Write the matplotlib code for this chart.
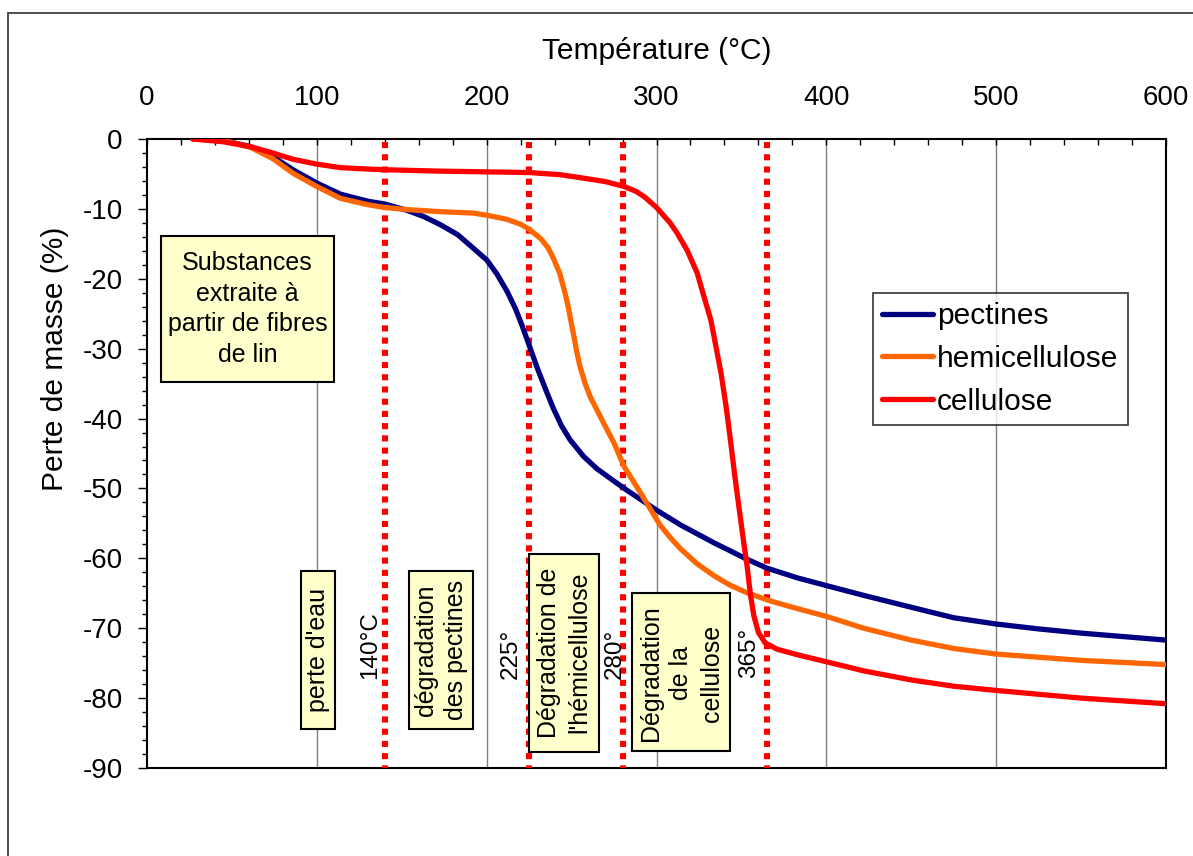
import matplotlib
matplotlib.use("Agg")
import matplotlib.pyplot as plt
from matplotlib.patches import Rectangle
from matplotlib.ticker import MultipleLocator

plt.rcParams['font.family'] = ['Liberation Sans', 'DejaVu Sans']
plt.rcParams['axes.unicode_minus'] = False

# ---------------- data ----------------
temp_pectines = [27, 45, 61, 74, 86, 100, 114, 130, 140, 153, 163, 173, 183, 192, 200, 206, 212, 217,
                 221, 225, 230, 235, 239, 244, 249, 257, 265, 281, 300, 314, 334, 344, 353, 365, 383,
                 400, 422, 450, 475, 500, 525, 550, 600]
mass_pectines = [0, -0.2, -1.1, -2.5, -4.4, -6.3, -7.9, -8.9, -9.3, -10.2, -11.1, -12.3, -13.7, -15.6,
                 -17.3, -19.3, -21.8, -24.3, -26.8, -29.5, -32.9, -36.0, -38.4, -41.0, -43.0, -45.4,
                 -47.2, -50.0, -53.1, -55.2, -57.8, -59.0, -60.1, -61.4, -62.8, -63.9, -65.3, -67.0,
                 -68.5, -69.4, -70.1, -70.7, -71.7]

temp_hemi = [27, 45, 61, 74, 86, 100, 114, 130, 140, 153, 173, 192, 200, 212, 220, 225, 232, 236,
             239, 243, 246, 248, 251, 253, 255, 258, 261, 265, 269, 275, 281, 289, 296, 302, 308,
             314, 324, 334, 343, 353, 367, 383, 400, 422, 450, 475, 500, 550, 600]
mass_hemi = [0, -0.2, -1.2, -2.8, -4.9, -6.8, -8.5, -9.4, -9.8, -10.1, -10.4, -10.6, -10.9, -11.5,
             -12.2, -12.9, -14.3, -15.5, -16.9, -19.2, -21.9, -24.0, -27.8, -30.4, -32.6, -35.0,
             -36.9, -38.8, -40.7, -43.5, -46.9, -50.0, -52.8, -55.2, -57.0, -58.6, -60.8, -62.5,
             -63.8, -64.9, -66.1, -67.2, -68.3, -70.0, -71.7, -72.9, -73.7, -74.6, -75.2]

temp_cellulose = [27, 45, 61, 74, 86, 100, 114, 130, 140, 173, 200, 225, 243, 257, 270, 281, 288,
                  293, 300, 308, 312, 318, 324, 328, 332, 335, 338, 341, 343.5, 346, 349, 351.4,
                  353.4, 355.3, 357.3, 360, 364, 371, 383, 400, 422, 450, 475, 500, 550, 600]
mass_cellulose = [0, -0.4, -1.1, -2.0, -2.9, -3.6, -4.1, -4.3, -4.4, -4.6, -4.7, -4.8, -5.1, -5.6,
                  -6.1, -6.8, -7.5, -8.3, -9.8, -12.0, -13.4, -15.9, -19.2, -22.6, -25.9, -29.7,
                  -33.5, -38.3, -43.0, -48.0, -53.5, -57.8, -61.2, -65.2, -68.2, -70.6, -72.1, -73.0,
                  -73.8, -74.8, -76.1, -77.4, -78.3, -78.9, -80.0, -80.8]

series_names = ['pectines', 'hemicellulose', 'cellulose']
series_colors = ['#000080', '#FF6600', '#FF0000']

transition_temps = [140, 225, 280, 365]
transition_labels = ['140°C', '225°', '280°', '365°']

x_ticks = [0, 100, 200, 300, 400, 500, 600]
y_ticks = [0, -10, -20, -30, -40, -50, -60, -70, -80, -90]

# ---------------- figure ----------------
W, H = 1193, 856
fig = plt.figure(figsize=(W / 100, H / 100), dpi=100)
ax = fig.add_axes([147 / W, 1 - 768 / H, (1166 - 147) / W, (768 - 139) / H])

# outer border
fig.patches.append(Rectangle((8 / W, -0.5), 2, (H - 13) / H + 0.5, transform=fig.transFigure,
                             fill=False, edgecolor='#303030', lw=1.2, zorder=0))

ax.set_xlim(0, 600)
ax.set_ylim(-90, 0)

# vertical gridlines
for xv in x_ticks[1:-1]:
    ax.axvline(xv, color='#808080', lw=1.0, zorder=1)

# transition dotted lines
for tt in transition_temps:
    ax.plot([tt, tt], [-0.4, -90], color='#FF0000', lw=4.4, dashes=(1, 1),
            solid_capstyle='butt', dash_capstyle='butt', zorder=3)

# curves
for xs, ys, name, col in zip([temp_pectines, temp_hemi, temp_cellulose],
                             [mass_pectines, mass_hemi, mass_cellulose],
                             series_names, series_colors):
    ax.plot(xs, ys, color=col, lw=3.8, label=name, zorder=4,
            solid_joinstyle='round', solid_capstyle='round')

# annotation boxes (data coordinates)
box_fc = '#FFFFCC'
boxes = [
    # (x0, x1, y0, y1, text, textx, texty, rotation)
    (8.2, 110.3, -34.8, -13.9, 'Substances\nextraite à\npartir de fibres\nde lin', 59.2, -24.3, 0),
    (90.7, 110.8, -84.4, -61.8, "perte d'eau", 100.8, -73.1, 90),
    (154.4, 192.1, -84.4, -61.8, 'dégradation\ndes pectines', 173.2, -73.1, 90),
    (225.1, 266.4, -87.7, -59.4, "Dégradation de\nl'hémicellulose", 245.7, -73.5, 90),
    (285.8, 343.5, -87.6, -64.9, 'Dégradation\nde la\ncellulose', 314.7, -76.4, 90),
]
for x0, x1, y0, y1, txt, tx, ty, rot in boxes:
    ax.add_patch(Rectangle((x0, y0), x1 - x0, y1 - y0, facecolor=box_fc, edgecolor='black',
                           lw=1.5, zorder=5))
    ax.text(tx, ty, txt, ha='center', va='center', rotation=rot, fontsize=18,
            multialignment='center', linespacing=1.35, zorder=6)

label_pos = [(131.4, -72.4), (213.9, -73.7), (275.2, -73.7), (354.7, -73.5)]
for (lx, ly), lab in zip(label_pos, transition_labels):
    ax.text(lx, ly, lab, rotation=90, ha='center', va='center', fontsize=17.5, zorder=6)

# axes styling
ax.xaxis.tick_top()
ax.xaxis.set_label_position('top')
ax.set_xticks(x_ticks)
ax.set_xticklabels([str(v) for v in x_ticks])
ax.set_yticks(y_ticks)
ax.set_yticklabels([str(v) for v in y_ticks])
ax.xaxis.set_minor_locator(MultipleLocator(20))
ax.yaxis.set_minor_locator(MultipleLocator(2))
ax.tick_params(axis='x', which='major', direction='in', length=4, width=1, pad=20, labelsize=20)
ax.tick_params(axis='x', which='minor', direction='in', length=4, width=1)
ax.tick_params(axis='y', which='major', direction='out', length=6.5, width=1, pad=11, labelsize=20)
ax.tick_params(axis='y', which='minor', direction='out', length=3.6, width=1)
for sp in ax.spines.values():
    sp.set_linewidth(1.5)
    sp.set_color('black')

ax.set_xlabel('Température (°C)', fontsize=21.5, labelpad=19)
ax.set_ylabel('Perte de masse (%)', fontsize=21.5)
ax.yaxis.set_label_coords(-0.077, 0.65)

leg = ax.legend(loc='upper left', bbox_to_anchor=(873 / W, 1 - 293 / H), bbox_transform=fig.transFigure,
                borderaxespad=0, fontsize=21.5, frameon=True, fancybox=False, handlelength=1.7,
                handletextpad=0.15, labelspacing=0.5, borderpad=0.3)
leg.get_frame().set_edgecolor('black')
leg.get_frame().set_linewidth(1.2)
leg.set_zorder(7)

fig.savefig('out.png', dpi=100)
